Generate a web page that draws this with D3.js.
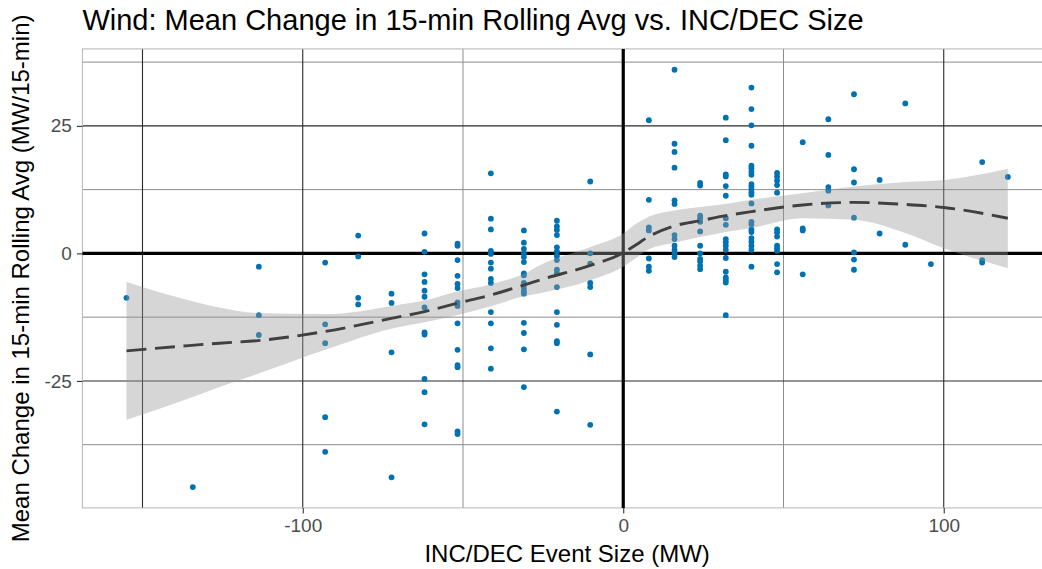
<!DOCTYPE html>
<html>
<head>
<meta charset="utf-8">
<script src="https://cdn.jsdelivr.net/npm/d3@7/dist/d3.min.js"></script>
<style>
  html, body { margin: 0; padding: 0; background: #ffffff; }
  svg { display: block; font-family: "Liberation Sans", Arial, Helvetica, sans-serif; }
</style>
</head>
<body>
<svg id="chart" width="1042" height="569"></svg>
<script>
// ---------------- DATA ----------------
const chartTitle = "Wind: Mean Change in 15-min Rolling Avg vs. INC/DEC Size";
const xAxisTitle = "INC/DEC Event Size (MW)";
const yAxisTitle = "Mean Change in 15-min Rolling Avg (MW/15-min)";

// event sizes (MW) of each column of points
const eventSizes = [-155, -134.3, -113.7, -93, -82.7, -72.3, -62, -51.7, -41.3, -31, -20.7, -10.3,
  8, 16, 24, 32, 40, 48, 56, 64, 72, 80, 88, 96, 112, 120];

// mean change values for each event size (same order as eventSizes)
const meanChanges = [
  [-8.7],
  [-45.8],
  [-2.6, -12.1, -16.0],
  [-1.8, -13.9, -17.6, -32.1, -38.9],
  [3.5, -0.6, -8.7, -10.0],
  [-7.9, -9.7, -19.4, -43.9],
  [3.9, 0.3, -4.1, -5.6, -7.3, -8.5, -10.6, -15.5, -15.9, -24.6, -27.2, -33.5],
  [1.9, 1.5, -1.3, -4.4, -6.0, -6.8, -9.6, -10.3, -13.7, -18.9, -21.9, -22.3, -34.9, -35.4],
  [15.7, 6.8, 4.7, 0.5, -0.1, -1.8, -3.0, -5.0, -5.8, -11.5, -13.7, -18.6, -22.6],
  [4.5, 2.1, 0.9, 0.0, -0.7, -1.7, -3.9, -4.3, -5.8, -6.8, -7.4, -7.9, -13.6, -15.6, -18.8, -26.2],
  [6.4, 5.3, 4.6, 3.6, 1.2, 0.4, -0.5, -1.3, -3.2, -3.9, -6.6, -11.5, -14.0, -17.2, -17.6, -31.0],
  [14.1, 0.0, -2.0, -5.8, -6.6, -19.8, -33.6],
  [26.1, 10.5, 5.1, 4.5, -1.0, -2.6, -3.4],
  [36.0, 21.5, 19.9, 16.8, 10.4, 9.7, 3.6, 2.8, 1.5, 0.7, 0.0, -0.7],
  [13.8, 13.3, 7.4, 6.9, 6.2, 4.3, 1.5, 0.0, -1.1, -1.6, -2.4, -3.1],
  [26.6, 22.2, 15.5, 15.1, 13.2, 11.3, 6.9, 5.6, 2.8, 2.2, 1.5, 0.7, -0.9, -3.6, -4.7, -5.2, -5.7, -12.1],
  [32.5, 28.3, 25.1, 21.1, 17.2, 16.7, 16.0, 15.4, 13.6, 13.1, 12.6, 12.0, 11.5, 9.8, 6.2, 5.7, 4.7, 4.2, 3.0, 2.3, 1.5, 0.7, -2.6],
  [15.8, 15.1, 14.3, 13.4, 11.9, 4.7, 4.1, 3.3, 1.5, 1.0, 0.5, -2.1, -3.7],
  [21.8, 4.9, 4.5, -4.1],
  [26.3, 19.3, 13.0, 12.3, 9.4],
  [31.2, 16.5, 13.9, 7.0, 0.2, -1.2, -3.2],
  [14.4, 3.9],
  [29.4, 1.7],
  [-2.1],
  [17.9, -1.3, -1.8],
  [15.0]
];

// smoothed trend (loess) and its confidence band
const smoothX   = [-155, -138, -126, -114, -93, -72, -62, -52, -41, -31, -26, -10, 0, 4, 8, 16, 24, 32, 40, 56, 72, 88, 100, 120];
const smoothY   = [-19.1, -18.2, -17.6, -17.1, -15.3, -12.7, -11.4, -9.8, -8.1, -6.2, -5.2, -2.3, 0.1, 1.7, 3.3, 5.4, 6.4, 7.4, 8.2, 9.5, 10.0, 9.6, 9.0, 6.9];
const smoothLow = [-32.6, -29.0, -26.2, -23.6, -18.9, -14.7, -13.5, -12.1, -10.3, -8.4, -7.8, -5.2, -2.6, -0.9, 0.8, 2.1, 3.2, 4.2, 5.0, 6.9, 6.6, 4.0, 1.0, -2.9];
const smoothHigh= [-5.6, -8.8, -10.6, -11.7, -11.9, -10.3, -9.2, -7.5, -6.0, -4.0, -2.3, 1.3, 3.9, 5.8, 7.2, 8.4, 9.1, 9.7, 10.5, 11.8, 13.1, 14.0, 14.4, 16.6];

// axis breaks
const xTickValues = [-100, 0, 100];
const xTickLabels = ["-100", "0", "100"];
const yTickValues = [-25, 0, 25];
const yTickLabels = ["-25", "0", "25"];
const xMajorGrid = [-150, -100, 100];
const xMinorGrid = [-50, 50];
const yMajorGrid = [-25, 25];
const yMinorGrid = [-37.5, -12.5, 12.5, 37.5];

// ---------------- CHART ----------------
const svg = d3.select("#chart");
const W = 1042, H = 569;
svg.append("rect").attr("width", W).attr("height", H).attr("fill", "#ffffff");

const panel = { left: 82.4, right: 1051.9, top: 48.9, bottom: 507.9 };

const points = [];
eventSizes.forEach((xv, i) => meanChanges[i].forEach(yv => points.push({ x: xv, y: yv })));

const xmin = d3.min(points, d => d.x), xmax = d3.max(points, d => d.x);
const ymin = d3.min(points, d => d.y), ymax = d3.max(points, d => d.y);
const xpad = (xmax - xmin) * 0.05, ypad = (ymax - ymin) * 0.05;

const x = d3.scaleLinear().domain([xmin - xpad, xmax + xpad]).range([panel.left, panel.right]);
const y = d3.scaleLinear().domain([ymin - ypad, ymax + ypad]).range([panel.bottom, panel.top]);

const g = svg.append("g");

// minor grid
g.selectAll(".ygmin").data(yMinorGrid).enter().append("line")
  .attr("x1", panel.left).attr("x2", panel.right)
  .attr("y1", d => y(d)).attr("y2", d => y(d))
  .attr("stroke", "#8c8c8c").attr("stroke-width", 1);
g.selectAll(".xgmin").data(xMinorGrid).enter().append("line")
  .attr("y1", panel.top).attr("y2", panel.bottom)
  .attr("x1", d => x(d)).attr("x2", d => x(d))
  .attr("stroke", "#8c8c8c").attr("stroke-width", 1);
// major grid
g.selectAll(".ygmaj").data(yMajorGrid).enter().append("line")
  .attr("x1", panel.left).attr("x2", panel.right)
  .attr("y1", d => y(d)).attr("y2", d => y(d))
  .attr("stroke", "#2b2b2b").attr("stroke-width", 1.1);
g.selectAll(".xgmaj").data(xMajorGrid).enter().append("line")
  .attr("y1", panel.top).attr("y2", panel.bottom)
  .attr("x1", d => x(d)).attr("x2", d => x(d))
  .attr("stroke", "#2b2b2b").attr("stroke-width", 1.1);

// panel border
g.append("rect")
  .attr("x", panel.left).attr("y", panel.top)
  .attr("width", panel.right - panel.left).attr("height", panel.bottom - panel.top)
  .attr("fill", "none").attr("stroke", "#b5b5b5").attr("stroke-width", 1);

// zero lines
g.append("line").attr("x1", panel.left).attr("x2", panel.right)
  .attr("y1", y(0)).attr("y2", y(0)).attr("stroke", "#000").attr("stroke-width", 3.2);
g.append("line").attr("y1", panel.top).attr("y2", panel.bottom)
  .attr("x1", x(0)).attr("x2", x(0)).attr("stroke", "#000").attr("stroke-width", 3.2);

// points
g.selectAll(".pt").data(points).enter().append("circle")
  .attr("cx", d => x(d.x)).attr("cy", d => y(d.y)).attr("r", 2.9)
  .attr("fill", "#0072B2");

// confidence band
const bandData = smoothX.map((xv, i) => ({ x: xv, lo: smoothLow[i], hi: smoothHigh[i], y: smoothY[i] }));
g.append("path").datum(bandData)
  .attr("d", d3.area().x(d => x(d.x)).y0(d => y(d.lo)).y1(d => y(d.hi)).curve(d3.curveMonotoneX))
  .attr("fill", "#999999").attr("fill-opacity", 0.4);
// trend line
g.append("path").datum(bandData)
  .attr("d", d3.line().x(d => x(d.x)).y(d => y(d.y)).curve(d3.curveMonotoneX))
  .attr("fill", "none").attr("stroke", "#404040").attr("stroke-width", 2.9)
  .attr("stroke-dasharray", "20 8.6");

// axes ticks
const xAxis = d3.axisBottom(x).tickValues(xTickValues).tickFormat((d, i) => xTickLabels[i])
  .tickSizeInner(5.5).tickSizeOuter(0).tickPadding(5);
const xa = svg.append("g").attr("transform", `translate(0,${panel.bottom})`).call(xAxis);
xa.select(".domain").remove();
xa.selectAll(".tick line").attr("stroke", "#333333").attr("stroke-width", 1.1);
xa.selectAll(".tick text").attr("fill", "#4d4d4d").attr("font-size", 19)
  .attr("font-family", "Liberation Sans, Arial, sans-serif");

const yAxis = d3.axisLeft(y).tickValues(yTickValues).tickFormat((d, i) => yTickLabels[i])
  .tickSizeInner(5.5).tickSizeOuter(0).tickPadding(5);
const ya = svg.append("g").attr("transform", `translate(${panel.left},0)`).call(yAxis);
ya.select(".domain").remove();
ya.selectAll(".tick line").attr("stroke", "#333333").attr("stroke-width", 1.1);
ya.selectAll(".tick text").attr("fill", "#4d4d4d").attr("font-size", 19)
  .attr("font-family", "Liberation Sans, Arial, sans-serif");

// titles
svg.append("text").attr("x", panel.left).attr("y", 30)
  .attr("font-size", 29).attr("fill", "#000").text(chartTitle);
svg.append("text").attr("x", (panel.left + panel.right) / 2).attr("y", 562)
  .attr("text-anchor", "middle").attr("font-size", 24).attr("fill", "#000").text(xAxisTitle);
svg.append("text")
  .attr("transform", `translate(29,${(panel.top + panel.bottom) / 2}) rotate(-90)`)
  .attr("text-anchor", "middle").attr("font-size", 24).attr("fill", "#000").text(yAxisTitle);
</script>
</body>
</html>
